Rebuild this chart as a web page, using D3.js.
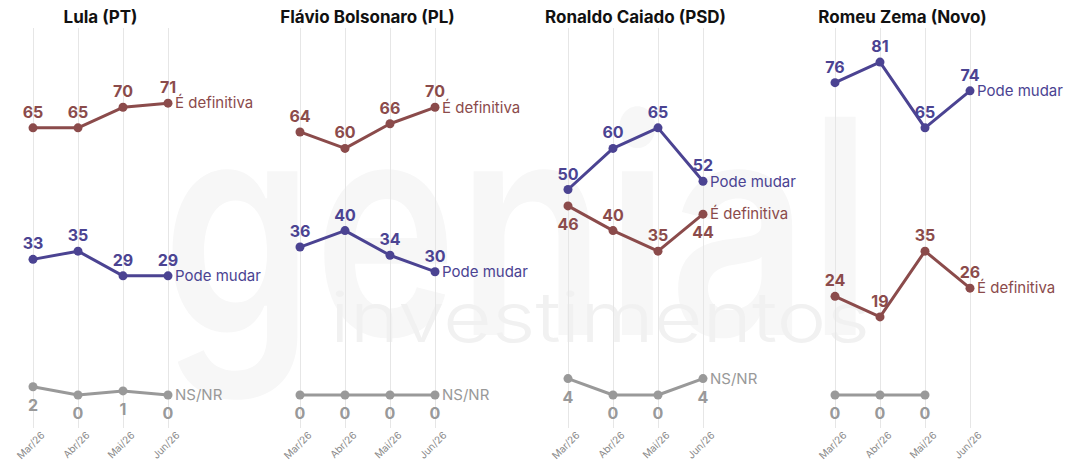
<!DOCTYPE html>
<html>
<head>
<meta charset="utf-8">
<script src="https://cdn.jsdelivr.net/npm/d3@7"></script>
<style>
  body { margin: 0; background: #fff; }
  svg { font-family: Inter, "Noto Sans", sans-serif; }
</style>
</head>
<body>
<svg id="chart"></svg>
<script>
// data
const months = ["Mar/26", "Abr/26", "Mai/26", "Jun/26"];
const candidates = ["Lula (PT)", "Flávio Bolsonaro (PL)", "Ronaldo Caiado (PSD)", "Romeu Zema (Novo)"];
const seriesNames = ["É definitiva", "Pode mudar", "NS/NR"];

const definitiva = [
  [65, 65, 70, 71],
  [64, 60, 66, 70],
  [46, 40, 35, 44],
  [24, 19, 35, 26]
];
const podeMudar = [
  [33, 35, 29, 29],
  [36, 40, 34, 30],
  [50, 60, 65, 52],
  [76, 81, 65, 74]
];
const nsnr = [
  [2, 0, 1, 0],
  [0, 0, 0, 0],
  [4, 0, 0, 4],
  [0, 0, 0, null]
];

const colors = {"É definitiva": "#8b4b4b", "Pode mudar": "#4b4392", "NS/NR": "#999999"};
// labels drawn under the point instead of above
const labelsBelow = {"2|É definitiva": [0, 3]};

const width = 1066, height = 467;
const panelStart = [33, 300, 568, 835];

const svg = d3.select("#chart")
  .attr("width", width)
  .attr("height", height);

// faint watermark behind the chart
svg.append("text")
  .attr("x", 162).attr("y", 335)
  .attr("textLength", 710)
  .attr("lengthAdjust", "spacingAndGlyphs")
  .attr("font-size", 300)
  .attr("font-weight", 600)
  .attr("fill", "#f7f7f7")
  .text("genial");
svg.append("text")
  .attr("x", 330).attr("y", 342)
  .attr("textLength", 540)
  .attr("lengthAdjust", "spacingAndGlyphs")
  .attr("font-size", 70)
  .attr("font-weight", 300)
  .attr("fill", "#f1f1f1")
  .text("investimentos");

const x = d3.scalePoint()
  .domain(months)
  .range([0, 135]);

const y = d3.scaleLinear()
  .domain([0, 100])
  .range([395, -16]);

const line = d3.line()
  .defined(d => d.v != null)
  .x(d => x(d.m))
  .y(d => y(d.v));

candidates.forEach((name, ci) => {
  const g = svg.append("g")
    .attr("transform", `translate(${panelStart[ci]},0)`);

  g.append("text")
    .attr("x", 67.5)
    .attr("y", 23)
    .attr("text-anchor", "middle")
    .attr("font-size", 17)
    .attr("font-weight", 700)
    .attr("fill", "#111")
    .text(name);

  // vertical grid + rotated month labels
  const xAxis = d3.axisBottom(x).tickSize(-400).tickPadding(6);
  const ax = g.append("g")
    .attr("transform", "translate(0,428)")
    .call(xAxis);
  ax.select(".domain").remove();
  ax.selectAll(".tick line").attr("stroke", "#e6e6e6").attr("stroke-width", 1);
  ax.selectAll(".tick text")
    .attr("fill", "#8a8a8a")
    .attr("font-size", 10)
    .attr("font-family", "Inter, sans-serif")
    .attr("text-anchor", "end")
    .attr("transform", "translate(4,0) rotate(-45)")
    .attr("dy", "0.5em");

  const all = [definitiva[ci], podeMudar[ci], nsnr[ci]];
  seriesNames.forEach((s, si) => {
    const pts = months.map((m, i) => ({m: m, v: all[si][i], i: i}));
    const valid = pts.filter(d => d.v != null);
    const col = colors[s];

    g.append("path")
      .datum(pts)
      .attr("fill", "none")
      .attr("stroke", col)
      .attr("stroke-width", 3)
      .attr("stroke-linejoin", "round")
      .attr("d", line);

    g.selectAll(null)
      .data(valid)
      .join("circle")
      .attr("cx", d => x(d.m))
      .attr("cy", d => y(d.v))
      .attr("r", 4.5)
      .attr("fill", col);

    const below = labelsBelow[ci + "|" + s] || [];
    g.selectAll(null)
      .data(valid)
      .join("text")
      .attr("x", d => x(d.m))
      .attr("y", d => (s === "NS/NR" || below.includes(d.i)) ? y(d.v) + 24 : y(d.v) - 10)
      .attr("text-anchor", "middle")
      .attr("font-size", 16)
      .attr("font-weight", 700)
      .attr("fill", col)
      .text(d => d.v);

    const last = pts[pts.length - 1];
    if (last.v != null) {
      g.append("text")
        .attr("x", x(last.m) + 7)
        .attr("y", y(last.v))
        .attr("dy", "0.35em")
        .attr("font-size", 15)
        .attr("fill", col)
        .text(s);
    }
  });
});
</script>
</body>
</html>
